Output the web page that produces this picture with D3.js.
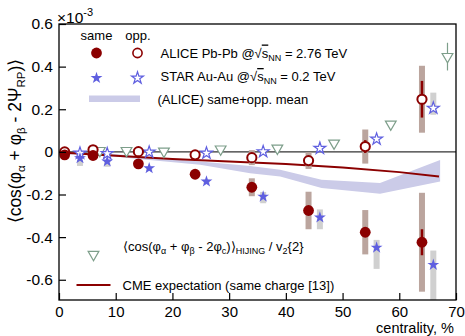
<!DOCTYPE html>
<html>
<head>
<meta charset="utf-8">
<script src="https://cdn.jsdelivr.net/npm/d3@7"></script>
<style>
  body { margin: 0; background: #fff; }
  text { font-family: "Liberation Sans", Arial, Helvetica, sans-serif; fill: #000; }
</style>
</head>
<body>
<svg id="chart" width="465" height="336"></svg>
<script>
// values in units of 1e-3
const aliceX = [1, 6, 14, 24, 34, 44, 54, 64];
const aliceSame = [-0.014, -0.017, -0.056, -0.105, -0.166, -0.275, -0.377, -0.424];
const aliceSameStat = [0.003, 0.003, 0.005, 0.006, 0.01, 0.015, 0.02, 0.061];
const aliceSameSys = [0.004, 0.005, 0.01, 0.015, 0.042, 0.088, 0.104, 0.232];
const aliceOpp = [0.0, 0.01, 0.001, -0.014, -0.027, -0.041, 0.025, 0.247];
const aliceOppStat = [0.003, 0.003, 0.004, 0.005, 0.008, 0.012, 0.03, 0.086];
const aliceOppSys = [0.004, 0.005, 0.008, 0.01, 0.035, 0.039, 0.08, 0.157];

const starX = [3.7, 8.5, 15.9, 26, 36, 46, 56, 66];
const starSame = [-0.03, -0.045, -0.077, -0.139, -0.21, -0.308, -0.449, -0.53];
const starSameSysTop = [-0.038, -0.038, -0.07, -0.13, -0.188, -0.27, -0.413, -0.463];
const starSameSysBot = [-0.066, -0.07, -0.09, -0.15, -0.241, -0.363, -0.549, -0.72];
const starOpp = [-0.006, -0.008, -0.001, -0.006, 0.001, 0.017, 0.06, 0.205];
const starOppSysTop = [0.0, 0.0, 0.005, 0.0, 0.006, 0.022, 0.068, 0.278];
const starOppSysBot = [-0.012, -0.016, -0.007, -0.012, -0.004, 0.012, 0.052, 0.174];

const hijingX = [7.2, 11.9, 18.5, 28.5, 38.5, 48.5, 58.5, 68.5];
const hijingY = [0.006, 0.006, 0.003, 0.013, 0.017, 0.041, 0.13, 0.447];
const hijingErr = [0, 0, 0, 0, 0, 0, 0, 0.065];

const bandX = [1, 6, 14, 24.9, 33.7, 39, 46.3, 56.6, 67.2];
const bandHi = [-0.002, -0.001, -0.02, -0.045, -0.066, -0.084, -0.131, -0.146, -0.038];
const bandLo = [-0.012, -0.011, -0.034, -0.06, -0.1, -0.116, -0.17, -0.197, -0.139];

const cmeX = [1, 10, 20, 30, 40, 50, 60, 67];
const cmeY = [-0.004, -0.018, -0.033, -0.045, -0.057, -0.073, -0.095, -0.116];

const xTicks = [0, 10, 20, 30, 40, 50, 60, 70];
const yTicks = [-0.6, -0.4, -0.2, 0, 0.2, 0.4, 0.6];

const darkRed = '#8b0000';
const starBlue = '#5f5fe0';
const hijingGreen = '#7d9e8a';
const sysBrown = '#bba59e';
const sysGray = '#d0d0d0';
const bandColor = '#cbcbe8';

const svg = d3.select('#chart');
const margin = { top: 24, right: 9, bottom: 36, left: 59 };
const W = 465, H = 336;

const x = d3.scaleLinear().domain([0, 70]).range([margin.left, W - margin.right]);
const y = d3.scaleLinear().domain([-0.695, 0.6]).range([H - margin.bottom, margin.top]);

svg.append('clipPath').attr('id', 'plotclip')
  .append('rect')
  .attr('x', margin.left).attr('y', margin.top)
  .attr('width', W - margin.left - margin.right)
  .attr('height', H - margin.top - margin.bottom);

const plot = svg.append('g').attr('clip-path', 'url(#plotclip)');

// mean band
const band = bandX.map((c, i) => ({ c, hi: bandHi[i], lo: bandLo[i] }));
plot.append('path')
  .datum(band)
  .attr('fill', bandColor)
  .attr('d', d3.area().x(d => x(d.c)).y0(d => y(d.lo)).y1(d => y(d.hi)));

// zero line
plot.append('line')
  .attr('x1', x(0)).attr('x2', x(70))
  .attr('y1', y(0)).attr('y2', y(0))
  .attr('stroke', '#333').attr('stroke-width', 1.2);

// CME expectation
plot.append('path')
  .datum(cmeX.map((c, i) => [c, cmeY[i]]))
  .attr('fill', 'none')
  .attr('stroke', darkRed)
  .attr('stroke-width', 2)
  .attr('d', d3.line().x(d => x(d[0])).y(d => y(d[1])));

// systematic boxes
const boxW = 6;
function sysBoxes(xs, tops, bots, color) {
  plot.append('g').selectAll('rect')
    .data(xs.map((c, i) => ({ c, t: tops[i], b: bots[i] })))
    .join('rect')
    .attr('x', d => x(d.c) - boxW / 2)
    .attr('y', d => y(d.t))
    .attr('width', boxW)
    .attr('height', d => y(d.b) - y(d.t))
    .attr('fill', color);
}
sysBoxes(aliceX, aliceSame.map((v, i) => v + aliceSameSys[i]), aliceSame.map((v, i) => v - aliceSameSys[i]), sysBrown);
sysBoxes(aliceX, aliceOpp.map((v, i) => v + aliceOppSys[i]), aliceOpp.map((v, i) => v - aliceOppSys[i]), sysBrown);
sysBoxes(starX, starSameSysTop, starSameSysBot, sysGray);
sysBoxes(starX, starOppSysTop, starOppSysBot, sysGray);

// HIJING triangles
const triSym = d3.symbol(d3.symbolTriangle, 50);
const hij = plot.append('g');
hij.selectAll('line')
  .data(hijingX.map((c, i) => ({ c, v: hijingY[i], e: hijingErr[i] })).filter(d => d.e > 0))
  .join('line')
  .attr('x1', d => x(d.c)).attr('x2', d => x(d.c))
  .attr('y1', d => y(d.v + d.e)).attr('y2', d => y(d.v - d.e))
  .attr('stroke', hijingGreen).attr('stroke-width', 1.2);
hij.selectAll('path')
  .data(hijingX.map((c, i) => ({ c, v: hijingY[i] })))
  .join('path')
  .attr('d', triSym)
  .attr('transform', d => `translate(${x(d.c)},${y(d.v)}) rotate(180)`)
  .attr('fill', '#fff')
  .attr('stroke', hijingGreen)
  .attr('stroke-width', 1.2);

// STAR stars
const starSym = d3.symbol(d3.symbolStar, 44);
plot.append('g').selectAll('path')
  .data(starX.map((c, i) => ({ c, v: starOpp[i] })))
  .join('path')
  .attr('d', starSym)
  .attr('transform', d => `translate(${x(d.c)},${y(d.v)})`)
  .attr('fill', '#fff')
  .attr('stroke', starBlue)
  .attr('stroke-width', 1.2);
plot.append('g').selectAll('path')
  .data(starX.map((c, i) => ({ c, v: starSame[i] })))
  .join('path')
  .attr('d', starSym)
  .attr('transform', d => `translate(${x(d.c)},${y(d.v)})`)
  .attr('fill', starBlue);

// ALICE stat errors + circles
function statBars(xs, vals, errs) {
  plot.append('g').selectAll('line')
    .data(xs.map((c, i) => ({ c, v: vals[i], e: errs[i] })))
    .join('line')
    .attr('x1', d => x(d.c)).attr('x2', d => x(d.c))
    .attr('y1', d => y(d.v + d.e)).attr('y2', d => y(d.v - d.e))
    .attr('stroke', darkRed).attr('stroke-width', 2.5);
}
statBars(aliceX, aliceOpp, aliceOppStat);
statBars(aliceX, aliceSame, aliceSameStat);

plot.append('g').selectAll('circle')
  .data(aliceX.map((c, i) => ({ c, v: aliceOpp[i] })))
  .join('circle')
  .attr('cx', d => x(d.c)).attr('cy', d => y(d.v)).attr('r', 4.6)
  .attr('fill', '#fff').attr('stroke', darkRed).attr('stroke-width', 2);
plot.append('g').selectAll('circle')
  .data(aliceX.map((c, i) => ({ c, v: aliceSame[i] })))
  .join('circle')
  .attr('cx', d => x(d.c)).attr('cy', d => y(d.v)).attr('r', 5.4)
  .attr('fill', darkRed);

// axes
const xAxis = svg.append('g')
  .attr('transform', `translate(0,${H - margin.bottom})`)
  .call(d3.axisBottom(x).tickValues(xTicks).tickSizeInner(-7).tickSizeOuter(0).tickPadding(6));
const yAxis = svg.append('g')
  .attr('transform', `translate(${margin.left},0)`)
  .call(d3.axisLeft(y).tickValues(yTicks).tickSizeInner(-7).tickSizeOuter(0).tickPadding(6)
    .tickFormat(d => d === 0 ? '0' : d.toFixed(1)));
[xAxis, yAxis].forEach(a => {
  a.select('.domain').remove();
  a.selectAll('line').attr('stroke', '#000').attr('stroke-width', 1.2);
  a.selectAll('text').attr('font-size', 15.5).attr('font-family', '"Liberation Sans", Arial, sans-serif').attr('fill', '#000');
});
xAxis.selectAll('text').attr('font-size', 15);

// frame
svg.append('rect')
  .attr('x', margin.left).attr('y', margin.top)
  .attr('width', W - margin.left - margin.right)
  .attr('height', H - margin.top - margin.bottom)
  .attr('fill', 'none').attr('stroke', '#000').attr('stroke-width', 1.3);

// x10^-3
const expo = svg.append('text').attr('x', 57).attr('y', 23).attr('font-size', 15.5);
expo.append('tspan').text('×10');
expo.append('tspan').attr('font-size', 11).attr('dy', -7).text('-3');

// axis titles
svg.append('text')
  .attr('x', W - 11).attr('y', 332.8)
  .attr('text-anchor', 'end')
  .attr('font-size', 14.5)
  .text('centrality, %');

// text with subscripts: shift lowers subscripts, next normal part restores
function addParts(t, parts, subSize, shift) {
  let offset = 0;
  parts.forEach(p => {
    const s = t.append('tspan');
    if (p.sub) {
      s.attr('font-size', subSize).attr('dy', shift - offset).text(p.sub);
      offset = shift;
    } else {
      if (offset) s.attr('dy', -offset);
      offset = 0;
      s.text(p.t);
    }
  });
}

const yt = svg.append('text')
  .attr('transform', 'translate(20.5,141) rotate(-90)')
  .attr('text-anchor', 'middle')
  .attr('font-size', 17.5);
addParts(yt, [{ t: '⟨cos(φ' }, { sub: 'α' }, { t: ' + φ' }, { sub: 'β' }, { t: ' - 2Ψ' }, { sub: 'RP' }, { t: ')⟩' }], 11.5, 4);

// legend
const legend = svg.append('g');
legend.append('text').attr('x', 96.5).attr('y', 40).attr('text-anchor', 'middle').attr('font-size', 13).text('same');
legend.append('text').attr('x', 138).attr('y', 40).attr('text-anchor', 'middle').attr('font-size', 13).text('opp.');
legend.append('circle').attr('cx', 96.5).attr('cy', 53).attr('r', 5.4).attr('fill', darkRed);
legend.append('circle').attr('cx', 137.5).attr('cy', 53).attr('r', 4.6)
  .attr('fill', '#fff').attr('stroke', darkRed).attr('stroke-width', 1.6);
legend.append('path').attr('d', starSym).attr('transform', 'translate(96.5,78)').attr('fill', starBlue);
legend.append('path').attr('d', starSym).attr('transform', 'translate(137.5,78)')
  .attr('fill', '#fff').attr('stroke', starBlue).attr('stroke-width', 1.2);
legend.append('rect').attr('x', 89).attr('y', 95.5).attr('width', 51).attr('height', 6.5).attr('fill', bandColor);

function sqrtLabel(yPos, prefix, suffix) {
  const t = legend.append('text').attr('x', 160.5).attr('y', yPos).attr('font-size', 13);
  t.append('tspan').text(prefix + '√');
  t.append('tspan').attr('text-decoration', 'overline').text('s');
  t.append('tspan').attr('font-size', 9).attr('dy', 3).text('NN');
  t.append('tspan').attr('dy', -3).text(suffix);
}
sqrtLabel(57.5, 'ALICE Pb-Pb @', ' = 2.76 TeV');
sqrtLabel(81, 'STAR Au-Au @', ' = 0.2 TeV');
legend.append('text').attr('x', 157.5).attr('y', 103.5).attr('font-size', 13).text('(ALICE) same+opp. mean');

legend.append('path').attr('d', triSym).attr('transform', 'translate(93.5,254.5) rotate(180)')
  .attr('fill', '#fff').attr('stroke', hijingGreen).attr('stroke-width', 1.2);
const ht = legend.append('text').attr('x', 123).attr('y', 251).attr('font-size', 13);
addParts(ht, [{ t: '⟨cos(φ' }, { sub: 'α' }, { t: ' + φ' }, { sub: 'β' }, { t: ' - 2φ' }, { sub: 'c' }, { t: ')⟩' }, { sub: 'HIJING' }, { t: ' / v' }, { sub: '2' }, { t: '{2}' }], 9, 3);

legend.append('line').attr('x1', 76.5).attr('x2', 110.5).attr('y1', 285).attr('y2', 285)
  .attr('stroke', darkRed).attr('stroke-width', 2);
legend.append('text').attr('x', 122.5).attr('y', 289.5).attr('font-size', 13).text('CME expectation (same charge [13])');
</script>
</body>
</html>
